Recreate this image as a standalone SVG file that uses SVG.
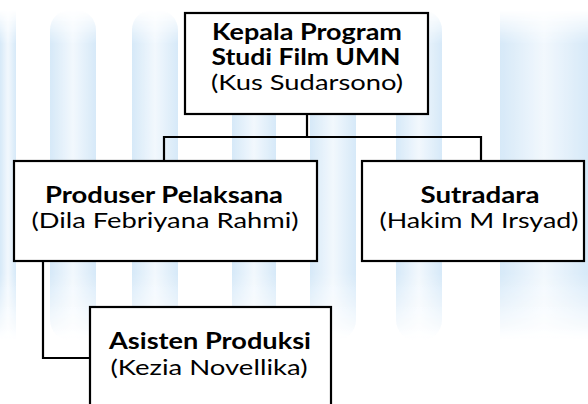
<svg xmlns="http://www.w3.org/2000/svg" width="588" height="404" viewBox="0 0 588 404">
  <defs>
    <linearGradient id="bar" x1="0" y1="0" x2="1" y2="0">
      <stop offset="0" stop-color="#c9e2f6"/>
      <stop offset="0.5" stop-color="#eef6fd"/>
      <stop offset="1" stop-color="#c9e2f6"/>
    </linearGradient>
    <linearGradient id="fade" x1="0" y1="0" x2="0" y2="1">
      <stop offset="0" stop-color="#fff" stop-opacity="0"/>
      <stop offset="0.1" stop-color="#fff" stop-opacity="1"/>
      <stop offset="0.8" stop-color="#fff" stop-opacity="1"/>
      <stop offset="1" stop-color="#fff" stop-opacity="0"/>
    </linearGradient>
    <mask id="vfade">
      <rect x="0" y="10" width="588" height="330" fill="url(#fade)"/>
    </mask>
    <style>
      .box { fill: #ffffff; stroke: #000000; stroke-width: 2.2; }
      .conn { fill: none; stroke: #000000; stroke-width: 2.2; }
      .t { font-family: Lato, "Liberation Sans", sans-serif; font-size: 22px; fill: #000000; text-anchor: middle; }
      .b { font-weight: bold; }
      .wm { fill: url(#bar); }
    </style>
  </defs>
  <rect width="588" height="404" fill="#ffffff"/>
  <g id="watermark" mask="url(#vfade)" opacity="0.75">
    <rect class="wm" x="0" y="10" width="16" height="330"/>
    <rect class="wm" x="50" y="10" width="46" height="330" rx="20"/>
    <rect class="wm" x="132" y="10" width="46" height="330" rx="20"/>
    <rect class="wm" x="232" y="10" width="44" height="330" rx="20"/>
    <rect class="wm" x="310" y="10" width="46" height="330" rx="20"/>
    <rect class="wm" x="396" y="10" width="46" height="330" rx="20"/>
    <rect class="wm" x="500" y="10" width="88" height="330"/>
  </g>
  <g id="connectors">
    <path class="conn" d="M307 114 V137"/>
    <path class="conn" d="M164 137 H481"/>
    <path class="conn" d="M164 136 V161"/>
    <path class="conn" d="M481 136 V161"/>
    <path class="conn" d="M43 261 V358 H90"/>
  </g>
  <g id="kepala">
    <rect class="box" x="185" y="13" width="243" height="101"/>
    <text class="t b" x="307" y="40" textLength="190" lengthAdjust="spacingAndGlyphs">Kepala Program</text>
    <text class="t b" x="306" y="65" textLength="189" lengthAdjust="spacingAndGlyphs">Studi Film UMN</text>
    <text class="t" x="307" y="90" textLength="192" lengthAdjust="spacingAndGlyphs">(Kus Sudarsono)</text>
  </g>
  <g id="produser">
    <rect class="box" x="14" y="161" width="303" height="100"/>
    <text class="t b" x="164" y="203" textLength="238" lengthAdjust="spacingAndGlyphs">Produser Pelaksana</text>
    <text class="t" x="165" y="228" textLength="267" lengthAdjust="spacingAndGlyphs">(Dila Febriyana Rahmi)</text>
  </g>
  <g id="sutradara">
    <rect class="box" x="362" y="161" width="222" height="100"/>
    <text class="t b" x="480" y="203" textLength="119" lengthAdjust="spacingAndGlyphs">Sutradara</text>
    <text class="t" x="479" y="228" textLength="199" lengthAdjust="spacingAndGlyphs">(Hakim M Irsyad)</text>
  </g>
  <g id="asisten">
    <rect class="box" x="90" y="307" width="241" height="120"/>
    <text class="t b" x="210" y="349" textLength="202" lengthAdjust="spacingAndGlyphs">Asisten Produksi</text>
    <text class="t" x="209" y="375" textLength="197" lengthAdjust="spacingAndGlyphs">(Kezia Novellika)</text>
  </g>
</svg>
